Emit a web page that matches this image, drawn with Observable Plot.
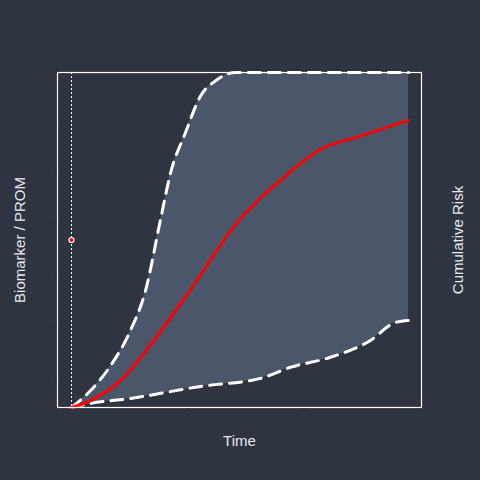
<!DOCTYPE html>
<html><head>
<script src="https://cdn.jsdelivr.net/npm/d3@7"></script>
<script src="https://cdn.jsdelivr.net/npm/@observablehq/plot@0.6"></script>
<style>body{margin:0;background:#2e3440}</style>
</head><body><div id="chart"></div>
<script>
const upperT = [0,0.56,1.16,1.75,2.2,2.64,2.94,3.38,3.83,4.27,4.87,10];
const upperY = [0,0.05,0.125,0.23,0.35,0.56,0.70,0.82,0.93,0.975,1,1];
const medT = [0,0.56,1.46,2.34,3.53,4.87,6.35,7.39,8.58,10];
const medY = [0,0.02,0.08,0.185,0.35,0.545,0.69,0.77,0.81,0.857];
const lowT = [0,0.56,1.75,3.83,5.61,6.5,7.69,8.87,9.61,10];
const lowY = [0,0.012,0.027,0.063,0.087,0.12,0.15,0.2,0.254,0.26];
const baseline = [{t:0, y:0.5}];

const upper = upperT.map((t,i)=>({t, y:upperY[i]}));
const med = medT.map((t,i)=>({t, y:medY[i]}));
const low = lowT.map((t,i)=>({t, y:lowY[i]}));
const bg = "#2e3440", fg = "#e5e9f0";

const plot = Plot.plot({
  width: 480, height: 480,
  marginLeft: 57, marginRight: 59, marginTop: 72, marginBottom: 73,
  style: {background: bg, color: fg, fontFamily: "Liberation Sans, Arial, sans-serif", fontSize: "14px"},
  x: {domain: [-0.415, 10.386], label: null},
  y: {domain: [0, 1], label: null},
  marks: [
    Plot.axisX({ticks: [0,3.45,6.9,10.35], tickFormat: () => "", tickSize: 3, stroke: "#222730"}),
    Plot.axisY({ticks: [0.08,0.24,0.39,0.55,0.7,0.85], tickFormat: () => "", tickSize: 3, stroke: "#222730"}),
    Plot.areaY(upper, {x: "t", y: "y", fill: "#4c566a", curve: "monotone-x"}),
    Plot.areaY(low, {x: "t", y: "y", fill: bg, curve: "monotone-x"}),
    Plot.ruleX([0], {stroke: "white", strokeDasharray: "2,2", strokeWidth: 1}),
    Plot.line(upper, {x: "t", y: "y", stroke: "white", strokeWidth: 3, strokeDasharray: "12,8", curve: "monotone-x"}),
    Plot.line(low, {x: "t", y: "y", stroke: "white", strokeWidth: 3, strokeDasharray: "12,8", curve: "monotone-x"}),
    Plot.line(med, {x: "t", y: "y", stroke: "red", strokeWidth: 3, curve: "monotone-x"}),
    Plot.dot(baseline, {x: "t", y: "y", r: 2.5, fill: "red", stroke: "white", strokeWidth: 1.2}),
    Plot.frame({stroke: "white", strokeWidth: 1.2}),
    Plot.text(["Time"], {frameAnchor: "bottom", dy: 38, fill: fg, fontSize: 15}),
    Plot.text(["Biomarker / PROM"], {frameAnchor: "left", dx: -37, rotate: -90, textAnchor: "middle", fill: fg, fontSize: 15}),
    Plot.text(["Cumulative Risk"], {frameAnchor: "right", dx: 37, rotate: -90, textAnchor: "middle", fill: fg, fontSize: 15})
  ]
});
document.querySelector("#chart").append(plot);
</script>
</body></html>
